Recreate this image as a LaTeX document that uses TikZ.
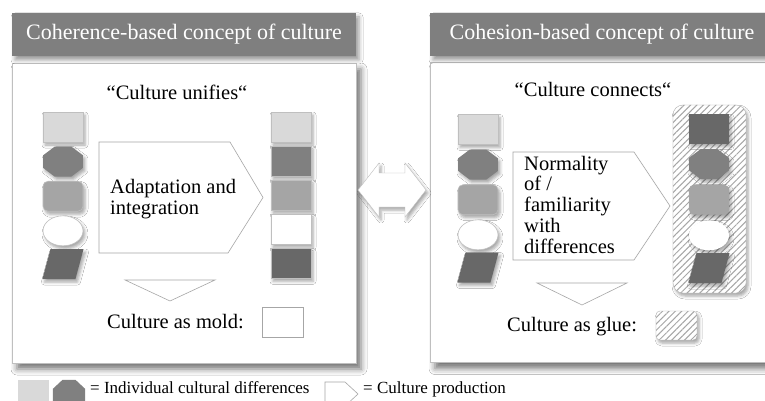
\documentclass[tikz,border=0pt]{standalone}
\usepackage{fontspec}
\setmainfont{Liberation Serif}
\usetikzlibrary{positioning,shapes.geometric,patterns.meta,shadows.blur}

\definecolor{barGray}{HTML}{7F7F7F}
\definecolor{cellLight}{HTML}{D9D9D9}
\definecolor{cellMid}{HTML}{A5A5A5}
\definecolor{cellDark}{HTML}{808080}
\definecolor{cellDeep}{HTML}{686868}

\begin{document}
\begin{tikzpicture}[x=1pt,y=-1pt,node distance=4pt,
                    font=\fontsize{20.5}{20.75}\selectfont,inner sep=0pt]
   \tikzstyle{soft}=[blur shadow={shadow xshift=2pt,shadow yshift=-3pt,
                     shadow blur radius=3pt,shadow opacity=35}]
   \tikzstyle{panel}=[blur shadow={shadow xshift=5pt,shadow yshift=-6pt,
                     shadow blur radius=6pt,shadow opacity=55},
                     draw=black!25,fill=white,minimum width=344pt]
   \tikzstyle{bar}=[blur shadow={shadow xshift=3pt,shadow yshift=-4pt,
                     shadow blur radius=4pt,shadow opacity=40},
                     fill=barGray,minimum width=344pt,minimum height=43pt,
                     text=white,font=\fontsize{22}{22}\selectfont]
   \tikzstyle{tile}=[soft,draw=black!25,line width=0.6pt,
                     minimum width=40pt,minimum height=30pt]
   \tikzstyle{sq}=[tile,rectangle]
   \tikzstyle{oct}=[tile,regular polygon,regular polygon sides=8,
                     minimum width=32.5pt,minimum height=32.5pt,
                     xscale=1.33,transform shape]
   \tikzstyle{rnd}=[tile,rectangle,rounded corners=5pt]
   \tikzstyle{ell}=[tile,ellipse]
   \tikzstyle{par}=[tile,rectangle,draw=none,minimum width=33pt,
                     xslant=0.27,transform shape]
   \tikzstyle{glue}=[soft,preaction={fill=white},draw=black!30,
                     pattern={Lines[angle=45,distance=4.5pt,line width=1pt]},
                     pattern color=black!35]
   \tikzstyle{prod}=[draw=black!35,line width=0.6pt,fill=white]

   \useasboundingbox (0,0) rectangle (765,401);
   \fill[white] (0,0) rectangle (765,401);
   \clip (0,0) rectangle (765,401);

   % the two frames
   \node[panel,minimum height=300pt] (frameL) at (184,213) {};
   \node[panel,minimum height=300pt] (frameR) at (602,212.5) {};
   \node[bar] (titleL) at (184,34.5) {Coherence-based concept of culture};
   \node[bar] (titleR) at (602,34.5) {Cohesion-based concept of culture};

   % exchange between both concepts
   \filldraw[soft,fill=white,draw=black!25] (358,190) -- (379,163) -- (379,173)
        -- (405,173) -- (405,163) -- (426,190) -- (405,217) -- (405,207)
        -- (379,207) -- (379,217) -- cycle;

   % coherence
   \node[anchor=base] (quoteL) at (177,100) {“Culture unifies“};

   \node[sq,fill=cellLight]            (a1) at (63,127) {};
   \node[oct,fill=cellDark,draw=none,below=of a1] (a2) {};
   \node[rnd,fill=cellMid,below=of a2]  (a3) {};
   \node[ell,fill=white,below=of a3]    (a4) {};
   \node[par,fill=cellDeep]             (a5) at (63,264) {};

   \draw[prod] (99,142) -- (230,142) -- (263,197.5) -- (228,253) -- (99,253) -- cycle;
   \node[anchor=west,align=left] (adapt) at (110,199) {Adaptation and\\integration};

   \node[sq,fill=cellLight]                  (b1) at (291,127) {};
   \node[sq,fill=cellDark,below=3.5pt of b1]  (b2) {};
   \node[sq,fill=cellMid,below=3.5pt of b2]   (b3) {};
   \node[sq,fill=white,below=3.5pt of b3]     (b4) {};
   \node[sq,fill=cellDeep,below=3.5pt of b4]  (b5) {};

   \draw[prod,fill=none] (125,280) -- (215,280) -- (170,301) -- cycle;
   \node[anchor=base west] (mold) at (107,328) {Culture as mold:};
   \node[draw=black!35,line width=0.6pt,minimum width=41pt,minimum height=30pt]
        (moldBox) at (282.5,322) {};

   % cohesion
   \node[anchor=base] (quoteR) at (593,97) {“Culture connects“};

   \node[sq,fill=cellLight]                   (c1) at (478,129.5) {};
   \node[oct,fill=cellDark,draw=none,below=4.5pt of c1] (c2) {};
   \node[rnd,fill=cellMid,below=4.5pt of c2]  (c3) {};
   \node[ell,fill=white,below=4.5pt of c3]    (c4) {};
   \node[par,fill=cellDeep]                   (c5) at (478,267.5) {};

   \draw[prod] (513,152) -- (634,152) -- (670,206) -- (634,260) -- (513,260) -- cycle;
   \node[anchor=west,align=left] (normal) at (524,204.5)
        {Normality\\of /\\familiarity\\with\\differences};

   \node[glue,rounded corners=10pt,minimum width=73pt,minimum height=188pt]
        (glueCol) at (709.5,199) {};
   \node[sq,fill=cellDeep,draw=none,minimum height=29pt] (d1) at (709,129) {};
   \node[oct,fill=cellDark,draw=none,below=5pt of d1]   (d2) {};
   \node[rnd,fill=cellMid,draw=none,below=5pt of d2]    (d3) {};
   \node[ell,fill=white,draw=none,below=5pt of d3]      (d4) {};
   \node[par,fill=cellDeep]                             (d5) at (709,268) {};

   \draw[prod,fill=none] (537,283) -- (627,283) -- (582,305) -- cycle;
   \node[anchor=base west] (glueText) at (507,331) {Culture as glue:};
   \node[glue,rounded corners=4pt,minimum width=41pt,minimum height=29pt]
        (glueBox) at (676.5,325.5) {};

   % key
   \node[fill=cellLight,draw=black!15,minimum width=30pt,minimum height=30pt]
        (keySq) at (33,395) {};
   \node[regular polygon,regular polygon sides=8,fill=cellDark,
         minimum width=32.5pt,minimum height=32.5pt,xscale=1.07,transform shape]
        (keyOct) at (69,395) {};
   \node[anchor=base west,font=\fontsize{17}{17}\selectfont] (keyDiff) at (90,393)
        {= Individual cultural differences};
   \draw[prod] (325,382) -- (345,382) -- (358,394) -- (345,406) -- (325,406) -- cycle;
   \node[anchor=base west,font=\fontsize{17}{17}\selectfont] (keyProd) at (363,393)
        {= Culture production};
\end{tikzpicture}
\end{document}
